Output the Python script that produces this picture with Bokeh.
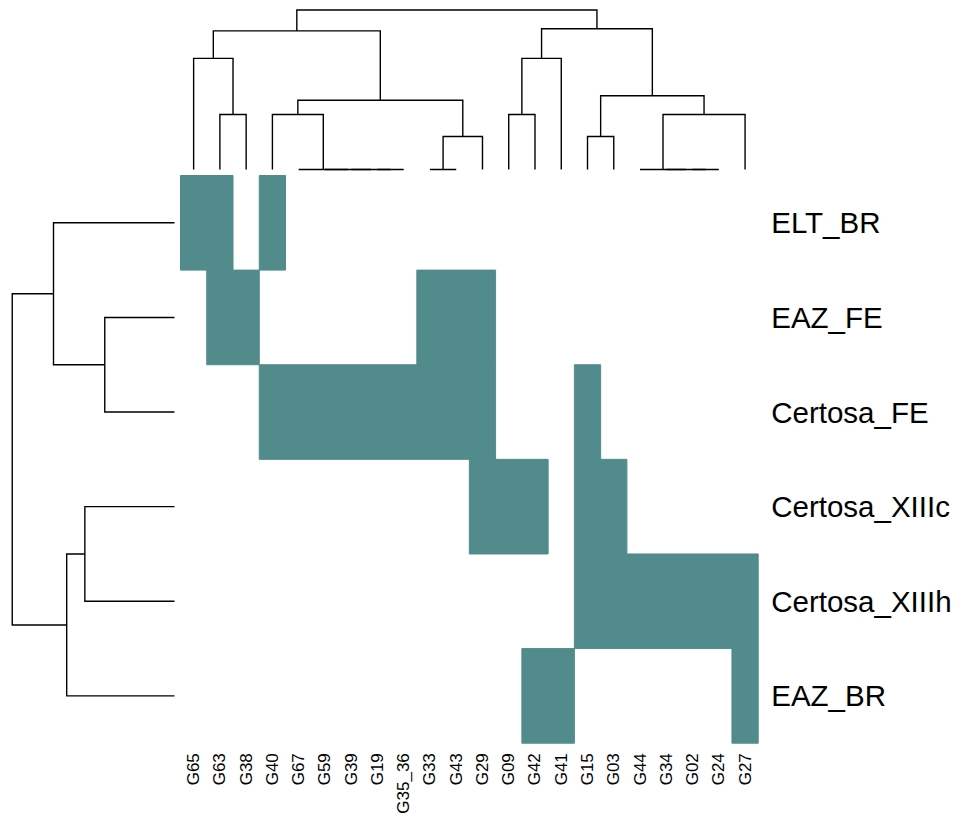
import math
from bokeh.plotting import figure
from bokeh.models import Range1d
from bokeh.core.properties import value
from bokeh.embed import file_html
from bokeh.resources import INLINE

# ---------------- data ----------------
columns = ["G65", "G63", "G38", "G40", "G67", "G59", "G39", "G19", "G35_36",
           "G33", "G43", "G29", "G09", "G42", "G41", "G15", "G03", "G44",
           "G34", "G02", "G24", "G27"]
rows = ["ELT_BR", "EAZ_FE", "Certosa_FE", "Certosa_XIIIc", "Certosa_XIIIh", "EAZ_BR"]

present_ELT_BR = ["G65", "G63", "G40"]
present_EAZ_FE = ["G63", "G38", "G33", "G43", "G29"]
present_Certosa_FE = ["G40", "G67", "G59", "G39", "G19", "G35_36", "G33", "G43", "G29", "G15"]
present_Certosa_XIIIc = ["G29", "G09", "G42", "G15", "G03"]
present_Certosa_XIIIh = ["G15", "G03", "G44", "G34", "G02", "G24", "G27"]
present_EAZ_BR = ["G42", "G41", "G27"]
presence = [present_ELT_BR, present_EAZ_FE, present_Certosa_FE,
            present_Certosa_XIIIc, present_Certosa_XIIIh, present_EAZ_BR]

# column dendrogram (merge a, merge b, height); "#k" = k-th merge
col_merge_a = ["G19", "G39", "G59", "G67", "G40", "G33", "#5", "#4", "G63", "G65",
               "#9", "G09", "#11", "G15", "G02", "G34", "G44", "#16", "#13", "#12", "#10"]
col_merge_b = ["G35_36", "#0", "#1", "#2", "#3", "G43", "G29", "#6", "G38", "#8",
               "#7", "G42", "G41", "G03", "G24", "#14", "#15", "G27", "#17", "#18", "#19"]
col_merge_h = [0.0, 0.0, 0.0, 0.0, 0.50, 0.0, 0.30, 0.63, 0.50, 1.01,
               1.26, 0.50, 1.01, 0.30, 0.0, 0.0, 0.0, 0.50, 0.67, 1.28, 1.45]

# row dendrogram
row_merge_a = ["EAZ_FE", "ELT_BR", "Certosa_XIIIc", "#2", "#1"]
row_merge_b = ["Certosa_FE", "#0", "Certosa_XIIIh", "EAZ_BR", "#3"]
row_merge_h = [0.634, 1.10, 0.815, 0.98, 1.475]

# ---------------- layout (pixels on the canvas) ----------------
W, H = 953, 813
hm_left, hm_right = 180.0, 757.7
hm_top, hm_bottom = 175.0, 742.7
ncol, nrow = len(columns), len(rows)
col_w = (hm_right - hm_left) / ncol
row_h = (hm_bottom - hm_top) / nrow
x_start = -hm_left / col_w
y_end = nrow + hm_top / row_h

top_base = 169.0      # canvas y of top-dendrogram leaves
left_base = 174.0     # canvas x of left-dendrogram leaves
d_scale = 110.0       # px per distance unit

FILL = "#528B8B"
FONT = "Liberation Sans"

p = figure(width=W, height=H,
           x_range=Range1d(x_start, x_start + W / col_w),
           y_range=Range1d(y_end - H / row_h, y_end),
           output_backend="svg", toolbar_location=None,
           x_axis_location=None, y_axis_location=None,
           min_border=0, min_border_left=0, min_border_right=0,
           min_border_top=0, min_border_bottom=0)
p.grid.visible = False
p.outline_line_color = None
p.background_fill_color = "white"
p.border_fill_color = "white"

p.extra_y_ranges = {"dtop": Range1d((top_base - H) / d_scale, top_base / d_scale)}
p.extra_x_ranges = {"dleft": Range1d(left_base / d_scale, (left_base - W) / d_scale)}

# ---------------- heatmap (contiguous runs per row) ----------------
lefts, rights, bottoms, tops = [], [], [], []
for r, plist in enumerate(presence):
    ybot = nrow - 1 - r
    c = 0
    while c < ncol:
        if columns[c] in plist:
            start = c
            while c < ncol and columns[c] in plist:
                c += 1
            lefts.append(start); rights.append(c)
            bottoms.append(ybot); tops.append(ybot + 1)
        else:
            c += 1
p.quad(left=lefts, right=rights, bottom=bottoms, top=tops,
       fill_color=FILL, line_color=FILL, line_width=1)


# ---------------- dendrograms ----------------
def dendro_paths(leaf_pos, ma, mb, mh):
    pos = dict(leaf_pos)
    hgt = {k: 0.0 for k in leaf_pos}
    paths_p, paths_h = [], []
    for k, (a, b, h) in enumerate(zip(ma, mb, mh)):
        pa, pb = pos[a], pos[b]
        paths_p.append([pa, pa, pb, pb])
        paths_h.append([hgt[a], h, h, hgt[b]])
        pos["#%d" % k] = (pa + pb) / 2.0
        hgt["#%d" % k] = h
    return paths_p, paths_h


col_pos = {name: i + 0.5 for i, name in enumerate(columns)}
cx, cy = dendro_paths(col_pos, col_merge_a, col_merge_b, col_merge_h)
p.multi_line(xs=cx, ys=cy, y_range_name="dtop", line_color="black",
             line_width=1.4, line_join="miter")

row_pos = {name: nrow - 1 - i + 0.5 for i, name in enumerate(rows)}
ry, rx = dendro_paths(row_pos, row_merge_a, row_merge_b, row_merge_h)
p.multi_line(xs=rx, ys=ry, x_range_name="dleft", line_color="black",
             line_width=1.4, line_join="miter")

# ---------------- labels ----------------
p.text(x=[ncol + 13.0 / col_w] * nrow, y=[nrow - 1 - i + 0.5 for i in range(nrow)],
       text=rows, text_font=value(FONT), text_font_size="29.5px",
       text_align="left", text_baseline="middle", text_color="black")

p.text(x=[i + 0.5 for i in range(ncol)], y=[-10.0 / row_h] * ncol,
       text=columns, angle=math.pi / 2, text_font=value(FONT), text_font_size="17px",
       text_align="right", text_baseline="middle", text_color="black")

open("out.html", "w").write(file_html(p, INLINE))
